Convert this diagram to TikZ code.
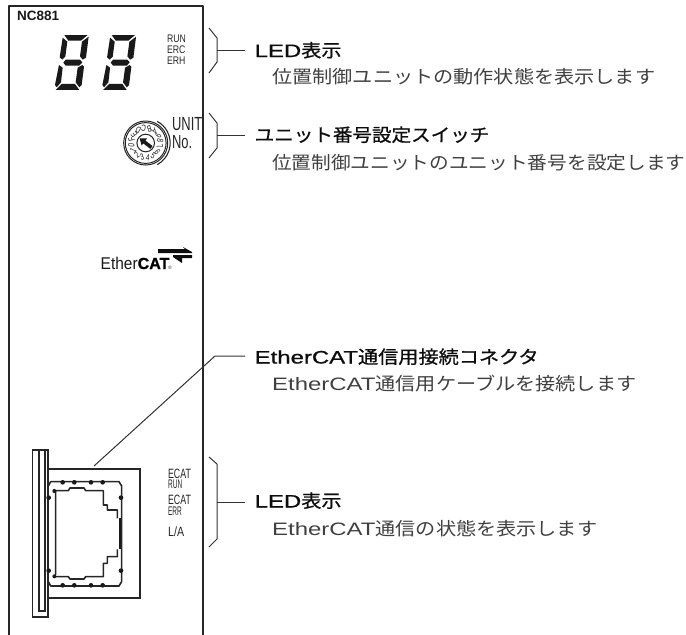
\documentclass[tikz,border=0pt]{standalone}
\usepackage{fontspec}
\usetikzlibrary{calc}
\setmainfont{Liberation Sans}
\newfontfamily\jp[FakeStretch=1.12]{Noto Sans CJK JP}
\newfontfamily\jph[FakeStretch=1.12,FakeBold=.8]{Noto Sans CJK JP}
\newfontfamily\lat[FakeStretch=1.33]{Liberation Sans}
\newfontfamily\lath[FakeStretch=1.33,FakeBold=.8]{Liberation Sans}
\newfontfamily\catf[FakeBold=1]{Liberation Sans}
\tikzset{
  px/.style={x=1pt,y=-1pt},
  line/.style={draw=black!85,line width=1pt},
  thick line/.style={draw=black!85,line width=1.6pt},
  bracket/.style={draw=black!80,line width=1pt,line join=round},
  head/.style={anchor=base west,inner sep=0pt,font=\fontsize{18}{18}\selectfont\jph,text=black!95},
  sub/.style={anchor=base west,inner sep=0pt,font=\fontsize{18}{18}\selectfont\jp,text=black!75},
  tiny/.style={anchor=base west,inner sep=0pt,font=\fontsize{11}{11}\selectfont,xscale=.79,text=black!85},
  tall/.style={anchor=base west,inner sep=0pt,font=\fontsize{13.5}{13.5}\selectfont,xscale=.65,text=black!85},
  seg/.style={fill=black!90,draw=none},
  hex/.style={inner sep=0pt,font=\fontsize{9}{9}\selectfont,text=black!90},
}
\begin{document}
\begin{tikzpicture}[px]
\useasboundingbox (0,0) rectangle (686,635);
% panel
\draw[thick line,line join=round] (9,635) -- (9,6) -- (203,6) -- (203,635);
\node[anchor=base west,inner sep=0pt,font=\fontsize{13.5}{13.5}\selectfont\bfseries,text=black!90] (model) at (17,20.5) {NC881};
% seven segment digits
\foreach \dx in {0,47.4}{
\begin{scope}[shift={(45+\dx,25)},x=.3333pt,y=-.3333pt]
\fill[seg] (58,30)--(128,30)--(108,47)--(70,47)--cycle;
\fill[seg] (53,38)--(67,50)--(61,95)--(52,104)--(44,97)--cycle;
\fill[seg] (131,35)--(123,98)--(113,104)--(105,94)--(111,50)--cycle;
\fill[seg] (62,104)--(105,104)--(112,112)--(103,122)--(62,122)--(55,113)--cycle;
\fill[seg] (42,120)--(53,128)--(48,172)--(35,187)--(30,180)--cycle;
\fill[seg] (112,120)--(117,125)--(110,180)--(103,187)--(92,172)--(98,128)--cycle;
\fill[seg] (32,195)--(50,177)--(90,177)--(103,195)--cycle;
\end{scope}}
\node[tiny] (l1) at (167,42.5) {RUN};
\node[tiny] (l2) at (167,53) {ERC};
\node[tiny] (l3) at (167,64.5) {ERH};
% dial
\coordinate (dial) at (145.7,143);
\draw[line] (dial) circle[radius=22];
\draw[line] (dial) circle[radius=20.4];
\draw[line,line width=1.1pt] ($(dial)+(62:24.5)$) arc[start angle=62,end angle=-62,radius=24.5];
\draw[line] (dial) circle[radius=8.8];
\foreach \c [count=\i from 0] in {0,1,2,3,4,5,6,7,8,9,A,B,C,D,E,F}{
  \pgfmathsetmacro\a{172-22.5*\i}
  \node[hex,rotate=\a-90] at ($(dial)+(\a:14.6)$) {\scalebox{.72}[1]{\c}};
}
\fill[black!90,rotate around={-38:(dial)}] (138,143) -- (144,138.5) -- (144,141.2) -- (153,141.2) -- (153,144.8) -- (144,144.8) -- (144,147.5) -- cycle;
\node[anchor=base west,inner sep=0pt,font=\fontsize{19}{19}\selectfont,xscale=.68,text=black!85] (unit) at (172,130.5) {UNIT};
\node[anchor=base west,inner sep=0pt,font=\fontsize{19}{19}\selectfont,xscale=.68,text=black!85] (no) at (172,148) {No.};
% EtherCAT logo
\node[anchor=base west,inner sep=0pt,font=\fontsize{17}{17}\selectfont,xscale=.91,text=black!90] (eth) at (100.5,269) {Ether};
\node[anchor=base west,inner sep=0pt,font=\fontsize{16}{16}\selectfont\catf\bfseries,text=black] (cat) at (137.5,269) {CAT};
\node[anchor=base west,inner sep=0pt,font=\fontsize{5}{5}\selectfont,text=black!80] (reg) at (168,269) {®};
\fill[black!95] (158,249) -- (185,249) -- (183,247) -- (192,252) -- (192,253) -- (158,253) -- cycle;
\fill[black!95] (192,255) -- (173,255) -- (173,257) -- (182,263) -- (182,258) -- (192,258) -- cycle;
% connector
\draw[thick line] (32.5,450) rectangle (48,617);
\draw[thick line] (39,450) -- (39,611) -- (45,611) -- (45,450);
\draw[thick line] (48,469) -- (140,469) -- (140,598) -- (48,598);
\begin{scope}[shift={(20,430)},x=.3333pt,y=-.3333pt]
\draw[thick line,line join=round] (85,168) -- (92,155) -- (297,155) -- (305,168) -- (305,243)
   -- (305,358) -- (305,455) -- (297,468) -- (92,468) -- (85,455);
\draw[line width=2.2pt,black!90] (300,265) -- (300,358);
\draw[thick line,line join=round] (107,435) -- (107,182) -- (145,182) -- (150,174) -- (192,174) -- (197,182) -- (250,182) -- (250,225) -- (262,225) -- (262,240) -- (292,240) -- (292,265);
\draw[thick line,line join=round] (107,440) -- (145,440) -- (150,447) -- (192,447) -- (197,440) -- (250,440) -- (250,400) -- (262,400) -- (262,380) -- (292,380) -- (292,358);
\foreach \px in {128,163,213,248}{
  \fill[black!90] (\px,157) circle[radius=7];
  \fill[black!90] (\px,466) circle[radius=7];}
\foreach \py in {203,422}{
  \fill[black!90] (86,\py) circle[radius=7];
  \fill[black!90] (303,\py) circle[radius=7];}
\fill[black!90] (103,183) circle[radius=6];
\fill[black!90] (103,439) circle[radius=6];
\end{scope}
\node[tall] (e1) at (168,478) {ECAT};
\node[tiny,font=\fontsize{12.5}{12.5}\selectfont,xscale=.66] (e2) at (168,488.5) {RUN};
\node[tall] (e3) at (168,504) {ECAT};
\node[tiny,font=\fontsize{12.5}{12.5}\selectfont,xscale=.66] (e4) at (168,515) {ERR};
\node[tiny,font=\fontsize{13.5}{13.5}\selectfont,xscale=1] (e5) at (168,536) {L/A};
% brackets
\draw[bracket] (209,28) -- (217,38) -- (217,62) -- (209,73);
\draw[bracket] (209,113) -- (217,123) -- (217,148) -- (209,158);
\draw[bracket] (209,457) -- (217,464) -- (217,539) -- (209,547);
% labels
\node[head] (h1) at (254.5,57) {\lath LED\jph 表示};
\node[sub] (s1) at (272,83) {位置制御ユニットの動作状態を表示します};
\node[head,xscale=.97] (h2) at (254.5,141.5) {ユニット番号設定スイッチ};
\node[sub,xscale=.976] (s2) at (272,169.5) {位置制御ユニットのユニット番号を設定します};
\node[head] (h3) at (254.5,363.5) {\lath EtherCAT\jph 通信用接続コネクタ};
\node[sub] (s3) at (272,390.5) {\lat EtherCAT\jp 通信用ケーブルを接続します};
\node[head] (h4) at (254.5,507.5) {\lath LED\jph 表示};
\node[sub] (s4) at (272,535) {\lat EtherCAT\jp 通信の状態を表示します};
% leaders
\coordinate (b1) at (217,50);
\coordinate (b2) at (217,135);
\coordinate (b3) at (217,502);
\draw[bracket] (b1) -- ++(28,0);
\draw[bracket] (b2) -- ++(28,0);
\draw[bracket] (b3) -- ++(28,0);
\coordinate (cn) at (94,466);
\draw[bracket] (cn) -- (215,356) -- (245,356);
\end{tikzpicture}
\end{document}
